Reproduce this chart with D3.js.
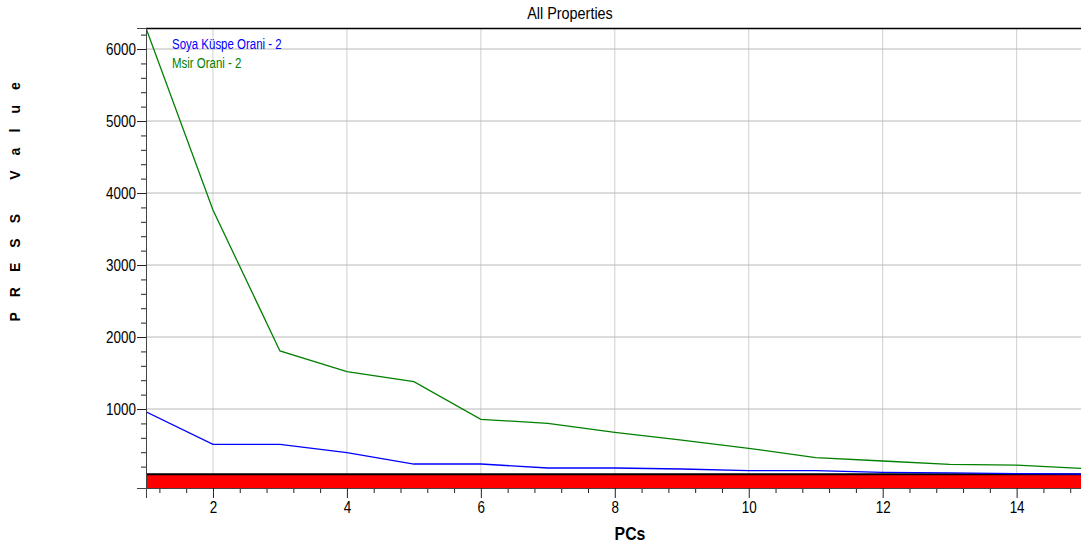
<!DOCTYPE html>
<html>
<head>
<meta charset="utf-8">
<script src="https://cdn.jsdelivr.net/npm/d3@7"></script>
<style>
  body { margin: 0; background: #fff; }
  svg { display: block; }
  text { font-family: "Liberation Sans", Arial, sans-serif; }
</style>
</head>
<body>
<div id="chart"></div>
<script>
// chart values
var pcs = [1, 2, 3, 4, 5, 6, 7, 8, 9, 10, 11, 12, 13, 14, 15];
var soyaValues = [962, 510, 510, 393, 236, 236, 181, 181, 167, 143, 143, 121, 112, 103, 97];
var msirValues = [6290, 3764, 1806, 1518, 1379, 857, 801, 676, 569, 454, 324, 278, 232, 222, 173];
var limitValues = [95, 95, 95, 95, 95, 95, 95, 95, 95, 95, 95, 95, 95, 95, 95];
var seriesNames = ["Soya Küspe Orani - 2", "Msir Orani - 2"];
var yTickLabels = [1000, 2000, 3000, 4000, 5000, 6000];
var xTickLabels = [2, 4, 6, 8, 10, 12, 14];

var width = 1081;
var height = 552;
var margin = { top: 28, right: 0, bottom: 64, left: 146 };

var svg = d3.select("#chart")
    .append("svg")
    .attr("width", width)
    .attr("height", height);

var x = d3.scaleLinear()
    .domain([1, 15])
    .range([margin.left, 1083.6]);

var y = d3.scaleLinear()
    .domain([-97, 6292])
    .range([height - margin.bottom, margin.top]);

// narrow text: the original uses a condensed Arial
function narrowText(parent, px, py, str, sx) {
    return parent.append("g")
        .attr("transform", "translate(" + px + "," + py + ")")
        .append("text")
        .attr("transform", "scale(" + sx + ",1)")
        .text(str);
}

svg.append("defs").append("clipPath")
    .attr("id", "plotClip")
    .append("rect")
    .attr("x", margin.left)
    .attr("y", margin.top)
    .attr("width", width - margin.left)
    .attr("height", height - margin.bottom - margin.top);

// grid
var grid = svg.append("g");
grid.selectAll(".vgrid")
    .data(xTickLabels)
    .enter()
    .append("line")
    .attr("x1", d => x(d))
    .attr("x2", d => x(d))
    .attr("y1", margin.top)
    .attr("y2", height - margin.bottom)
    .attr("stroke", "#d0d0d0")
    .attr("stroke-width", 1);
grid.selectAll(".hgrid")
    .data(yTickLabels)
    .enter()
    .append("line")
    .attr("x1", margin.left)
    .attr("x2", width)
    .attr("y1", d => y(d))
    .attr("y2", d => y(d))
    .attr("stroke", "#b8b8b8")
    .attr("stroke-width", 1);

var plot = svg.append("g").attr("clip-path", "url(#plotClip)");

// red band
var band = d3.area()
    .x((d, i) => x(pcs[i]))
    .y0(y.range()[0])
    .y1(d => y(d));
plot.append("path")
    .datum(limitValues)
    .attr("d", band)
    .attr("fill", "#ff0000");
plot.append("path")
    .datum(limitValues)
    .attr("d", d3.line().x((d, i) => x(pcs[i])).y(d => y(d)))
    .attr("fill", "none")
    .attr("stroke", "#000")
    .attr("stroke-width", 2);

var line = d3.line()
    .x((d, i) => x(pcs[i]))
    .y(d => y(d));

plot.append("path")
    .datum(msirValues)
    .attr("d", line)
    .attr("fill", "none")
    .attr("stroke", "#008000")
    .attr("stroke-width", 1.3);

plot.append("path")
    .datum(soyaValues)
    .attr("d", line)
    .attr("fill", "none")
    .attr("stroke", "#0000ff")
    .attr("stroke-width", 1.3);

// top border
svg.append("line")
    .attr("x1", margin.left)
    .attr("x2", width)
    .attr("y1", margin.top + 0.5)
    .attr("y2", margin.top + 0.5)
    .attr("stroke", "#000")
    .attr("stroke-width", 1.5);

// axes
var xMinor = d3.range(1.2, 15.01, 0.4).filter(v => Math.abs(v / 2 - Math.round(v / 2)) > 0.01);
var xAxis = svg.append("g")
    .attr("transform", "translate(0," + (height - margin.bottom) + ")");
xAxis.append("g")
    .call(d3.axisBottom(x).tickValues(xMinor).tickSize(5).tickFormat(""))
    .call(g => g.select(".domain").remove());
xAxis.append("g")
    .call(d3.axisBottom(x).tickValues(xTickLabels).tickSize(10).tickPadding(4))
    .call(g => g.select(".domain").attr("stroke", "#444"))
    .call(g => g.selectAll("text").attr("font-size", 16).attr("fill", "#000")
        .attr("transform", "scale(0.84,1)")
        .style("font-family", "'Liberation Sans', Arial, sans-serif"));

var yMinor = d3.range(200, 6201, 200).filter(v => v % 1000 !== 0);
var yAxis = svg.append("g")
    .attr("transform", "translate(" + margin.left + ",0)");
yAxis.append("g")
    .call(d3.axisLeft(y).tickValues(yMinor).tickSize(5).tickFormat(""))
    .call(g => g.select(".domain").remove());
yAxis.append("g")
    .call(d3.axisLeft(y).tickValues(yTickLabels).tickSize(9).tickPadding(3).tickFormat(d3.format("d")))
    .call(g => g.select(".domain").attr("stroke", "#444"))
    .call(g => g.selectAll("text").attr("font-size", 16).attr("fill", "#000")
        .attr("transform", "scale(0.84,1)")
        .style("font-family", "'Liberation Sans', Arial, sans-serif"));
svg.selectAll(".tick line").attr("stroke", "#222");

// title and labels
narrowText(svg, 570, 19, "All Properties", 0.9)
    .attr("text-anchor", "middle")
    .attr("font-size", 16);

narrowText(svg, 630, 540, "PCs", 0.88)
    .attr("text-anchor", "middle")
    .attr("font-size", 18)
    .attr("font-weight", "bold");

svg.append("text")
    .attr("transform", "translate(20,199) rotate(-90)")
    .attr("text-anchor", "middle")
    .attr("font-size", 14)
    .attr("font-weight", "bold")
    .attr("letter-spacing", "5.6px")
    .attr("xml:space", "preserve")
    .style("white-space", "pre")
    .text("P R E S S   V a l u e");

// legend
var legendColors = ["#0000ff", "#008000"];
seriesNames.forEach(function (name, i) {
    narrowText(svg, 172, 49 + i * 19, name, 0.82)
        .attr("font-size", 14)
        .attr("fill", legendColors[i]);
});
</script>
</body>
</html>
